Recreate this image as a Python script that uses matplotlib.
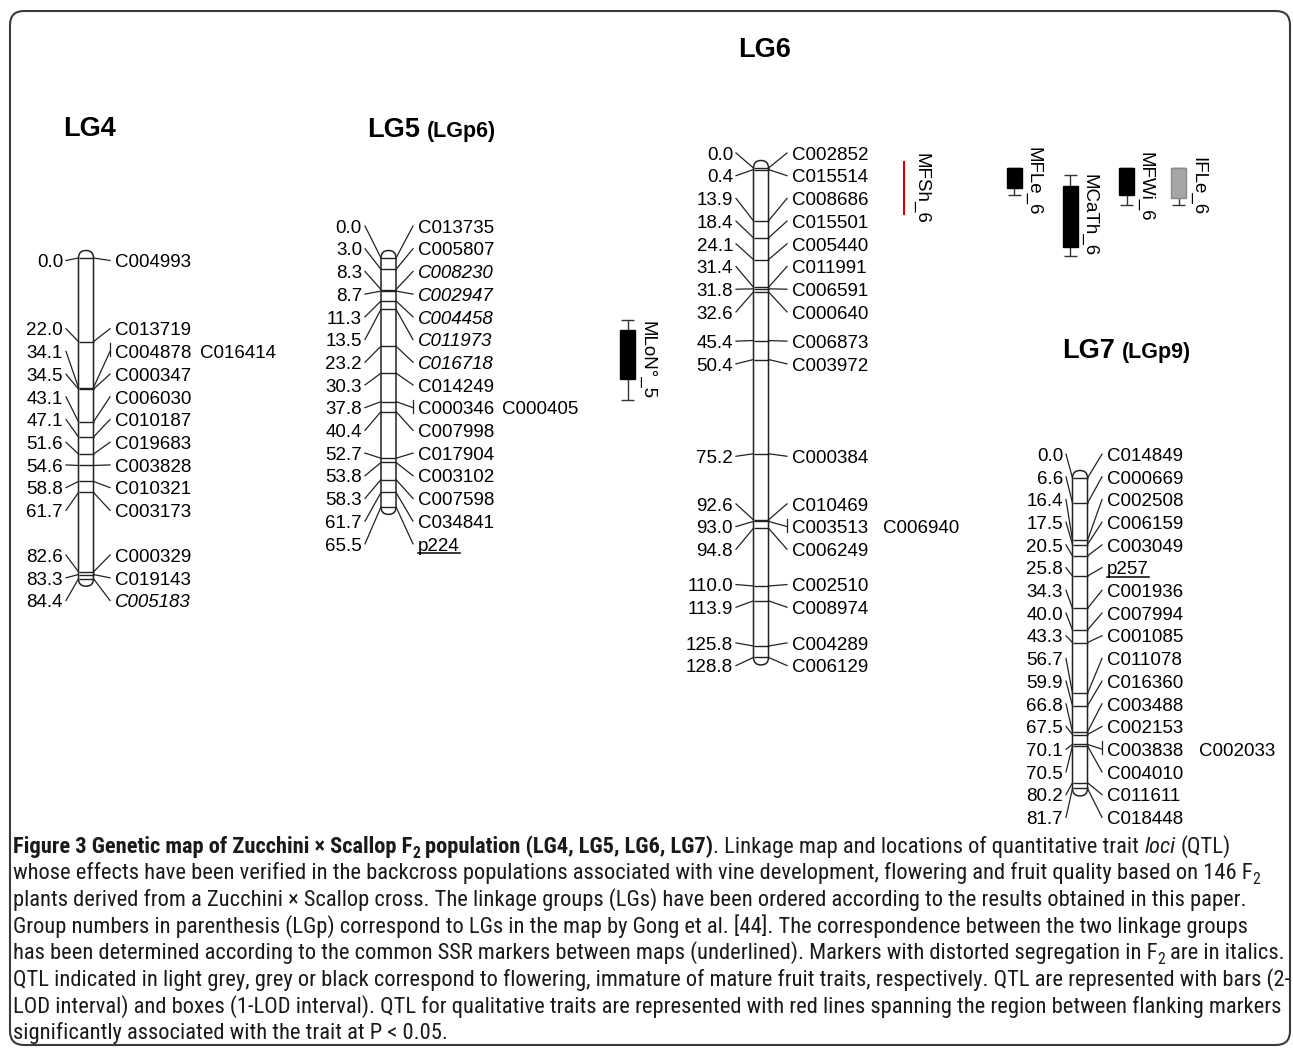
import numpy as np
import matplotlib
matplotlib.use("Agg")
import matplotlib.pyplot as plt
from matplotlib.patches import FancyBboxPatch
from matplotlib import font_manager as fm

W, H = 1293, 1052
PX = 3.8      # pixels per cM
ROW = 22.7    # label row spacing (px)

# ---------------- map data ----------------
lg4_pos = [0.0, 22.0, 34.1, 34.5, 43.1, 47.1, 51.6, 54.6, 58.8, 61.7, 82.6, 83.3, 84.4]
lg4_mrk = ["C004993", "C013719", "C004878 C016414", "C000347", "C006030", "C010187", "C019683",
           "C003828", "C010321", "C003173", "C000329", "C019143", "C005183"]

lg5_pos = [0.0, 3.0, 8.3, 8.7, 11.3, 13.5, 23.2, 30.3, 37.8, 40.4, 52.7, 53.8, 58.3, 61.7, 65.5]
lg5_mrk = ["C013735", "C005807", "C008230", "C002947", "C004458", "C011973", "C016718", "C014249",
           "C000346 C000405", "C007998", "C017904", "C003102", "C007598", "C034841", "p224"]

lg6_pos = [0.0, 0.4, 13.9, 18.4, 24.1, 31.4, 31.8, 32.6, 45.4, 50.4, 75.2, 92.6, 93.0, 94.8,
           110.0, 113.9, 125.8, 128.8]
lg6_mrk = ["C002852", "C015514", "C008686", "C015501", "C005440", "C011991", "C006591", "C000640",
           "C006873", "C003972", "C000384", "C010469", "C003513 C006940", "C006249", "C002510",
           "C008974", "C004289", "C006129"]

lg7_pos = [0.0, 6.6, 16.4, 17.5, 20.5, 25.8, 34.3, 40.0, 43.3, 56.7, 59.9, 66.8, 67.5, 70.1,
           70.5, 80.2, 81.7]
lg7_mrk = ["C014849", "C000669", "C002508", "C006159", "C003049", "p257", "C001936", "C007994",
           "C001085", "C011078", "C016360", "C003488", "C002153", "C003838 C002033", "C004010",
           "C011611", "C018448"]

italic_mrk = ["C005183", "C008230", "C002947", "C004458", "C011973", "C016718"]
underlined_mrk = ["p224", "p257"]

# QTL (cM): 2-LOD low, 1-LOD low, 1-LOD high, 2-LOD high
qtl_name = ["MLoN°_5", "MFLe_6", "MCaTh_6", "MFWi_6", "IFLe_6"]
qtl_lg = ["LG5", "LG6", "LG6", "LG6", "LG6"]
qtl_lod2_lo = [16.3, 0.0, 1.8, 0.0, 0.0]
qtl_lod1_lo = [18.9, 0.0, 4.7, 0.0, 0.0]
qtl_lod1_hi = [31.8, 5.3, 20.8, 7.1, 7.9]
qtl_lod2_hi = [37.4, 7.1, 23.2, 9.7, 9.7]
qtl_kind = ["mature", "mature", "mature", "mature", "immature"]

# qualitative trait, red line between flanking markers
qual_name = ["MFSh_6"]
qual_lg = ["LG6"]
qual_lo = [-1.8]
qual_hi = [12.4]

caption = [
    [("Figure 3 Genetic map of Zucchini × Scallop F", "b"), ("2", "bsub"),
     (" population (LG4, LG5, LG6, LG7)", "b"),
     (". Linkage map and locations of quantitative trait ", "n"), ("loci", "i"), (" (QTL)", "n")],
    [("whose effects have been verified in the backcross populations associated with vine "
      "development, flowering and fruit quality based on 146 F", "n"), ("2", "sub")],
    [("plants derived from a Zucchini × Scallop cross. The linkage groups (LGs) have been "
      "ordered according to the results obtained in this paper.", "n")],
    [("Group numbers in parenthesis (LGp) correspond to LGs in the map by Gong et al. [44]. "
      "The correspondence between the two linkage groups", "n")],
    [("has been determined according to the common SSR markers between maps (underlined). "
      "Markers with distorted segregation in F", "n"), ("2", "sub"), (" are in italics.", "n")],
    [("QTL indicated in light grey, grey or black correspond to flowering, immature of mature "
      "fruit traits, respectively. QTL are represented with bars (2-", "n")],
    [("LOD interval) and boxes (1-LOD interval). QTL for qualitative traits are represented "
      "with red lines spanning the region between flanking markers", "n")],
    [("significantly associated with the trait at P < 0.05.", "n")],
]
# right end of each caption line in the reference (px), None for the short last line
caption_right = [1290, 1283, 1262, 1262, 1283, 1290, 1290, None]

# ---------------- layout ----------------
FONT = "Liberation Sans"
FS = 13.5
EM = FS * 100 / 72
CAPH = 0.358 * EM          # half cap height, px
BAR_HW = 7.5
LAB_SHIFT = 2.5
LINE_C = "#222222"

LAYOUT = {
    "LG4": dict(cx=86, y0=258, num_x=63, name_x=115, gap2=9),
    "LG5": dict(cx=388.5, y0=258, num_x=362, name_x=418, gap2=8),
    "LG6": dict(cx=761, y0=168, num_x=733, name_x=792, gap2=15),
    "LG7": dict(cx=1080, y0=478, num_x=1063, name_x=1107, gap2=16),
}
QTL_X = {"MLoN°_5": 627.5, "MFLe_6": 1014, "MCaTh_6": 1070, "MFWi_6": 1126.5,
         "IFLe_6": 1178.5, "MFSh_6": 904}
KIND_C = {"mature": "black", "immature": "#a6a6a6", "flowering": "#d9d9d9"}
KIND_E = {"mature": "black", "immature": "#8a8a8a", "flowering": "#9a9a9a"}


def pick_caption_font():
    # prefer a narrow sans for the caption, like the journal's condensed face
    found = {}
    for f in fm.fontManager.ttflist:
        tag = (f.name + " " + f.fname).lower()
        if "narrow" in tag or "condensed" in tag or f.stretch not in ("normal", 400, "400"):
            found.setdefault(f.name, f.stretch)
    for want in ["Liberation Sans Narrow", "Roboto Condensed", "Open Sans Condensed",
                 "DejaVu Sans"]:
        if want in found:
            return want, found[want]
    for name, st in found.items():
        if "mono" not in name.lower() and "serif" not in name.lower():
            return name, st
    return "Liberation Sans", "normal"


CAP_FONT, CAP_STRETCH = pick_caption_font()


def spread(pos, gap):
    pos = list(pos)
    cl = [[i, i] for i in range(len(pos))]

    def start(c):
        mid = (pos[c[0]] + pos[c[1]]) / 2
        return mid - (c[1] - c[0]) * gap / 2

    merged = True
    while merged:
        merged = False
        for k in range(len(cl) - 1):
            a, b = cl[k], cl[k + 1]
            if start(b) < start(a) + (a[1] - a[0] + 1) * gap - 1e-9:
                cl[k] = [a[0], b[1]]
                del cl[k + 1]
                merged = True
                break
    out = []
    for c in cl:
        s = start(c)
        out.extend(s + j * gap for j in range(c[1] - c[0] + 1))
    return np.array(out)


fig = plt.figure(figsize=(W / 100, H / 100), dpi=100)
renderer = fig.canvas.get_renderer()

bg = fig.add_axes([0, 0, 1, 1])
bg.set_xlim(0, W)
bg.set_ylim(H, 0)
bg.axis("off")

bg.add_patch(FancyBboxPatch((10, 11), 1280, 1034, boxstyle="round,pad=0,rounding_size=14",
                            fill=False, ec="#3a3a3a", lw=1.5))

lg_axes = {}


def make_axes(key):
    y0 = LAYOUT[key]["y0"]
    a = fig.add_axes([0, 0, 1, 1])
    a.set_xlim(0, W)
    a.set_ylim((H - y0) / PX, -y0 / PX)
    a.axis("off")
    a.patch.set_visible(False)
    lg_axes[key] = a
    return a


def width_of(t):
    return t.get_window_extent(renderer).width


def draw_lg(key, pos, names):
    L = LAYOUT[key]
    a = make_axes(key)
    pos = np.asarray(pos)
    cx, hw = L["cx"], BAR_HW
    a.add_patch(FancyBboxPatch((cx - hw, pos[0] - hw / PX), 2 * hw, pos[-1] - pos[0] + 2 * hw / PX,
                               boxstyle=f"round,pad=0,rounding_size={hw}", mutation_aspect=1 / PX,
                               fc="white", ec=LINE_C, lw=1.1))
    a.hlines(pos, cx - hw, cx + hw, color=LINE_C, lw=1)
    lab = spread(pos, ROW / PX) + LAB_SHIFT / PX
    for p, l, nm in zip(pos, lab, names):
        base = l + CAPH / PX
        a.plot([L["num_x"] + 3, cx - hw], [l, p], color=LINE_C, lw=0.9)
        a.text(L["num_x"], base, f"{p:.1f}", ha="right", va="baseline", fontsize=FS, family=FONT)
        parts = nm.split()
        tip = L["name_x"] - 5
        a.plot([cx + hw, tip], [p, l], color=LINE_C, lw=0.9)
        if len(parts) > 1:
            a.plot([tip, tip], [l - 8 / PX, l + 5 / PX], color=LINE_C, lw=0.9)
        st = "italic" if parts[0] in italic_mrk else "normal"
        t = a.text(L["name_x"], base, parts[0], ha="left", va="baseline", fontsize=FS,
                   family=FONT, style=st)
        w = width_of(t)
        if parts[0] in underlined_mrk:
            a.plot([L["name_x"], L["name_x"] + w], [base + 2.5 / PX] * 2, color="black", lw=1.1)
        if len(parts) > 1:
            a.text(L["name_x"] + w + L["gap2"], base, parts[1], ha="left", va="baseline",
                   fontsize=FS, family=FONT)


draw_lg("LG4", lg4_pos, lg4_mrk)
draw_lg("LG5", lg5_pos, lg5_mrk)
draw_lg("LG6", lg6_pos, lg6_mrk)
draw_lg("LG7", lg7_pos, lg7_mrk)

# QTL boxes with 2-LOD whiskers
for nm, g, w0, b0, b1, w1, kind in zip(qtl_name, qtl_lg, qtl_lod2_lo, qtl_lod1_lo,
                                        qtl_lod1_hi, qtl_lod2_hi, qtl_kind):
    a = lg_axes[g]
    x = QTL_X[nm]
    a.bar(x, b1 - b0, bottom=b0, width=15, color=KIND_C[kind], edgecolor=KIND_E[kind], lw=1, zorder=3)
    wc = "#333333"
    a.vlines(x, w0, b0, color=wc, lw=1)
    a.vlines(x, b1, w1, color=wc, lw=1)
    a.hlines([w0, w1], x - 6.5, x + 6.5, color=wc, lw=1)
    a.text(x + 7.5 + 3, (w0 + w1) / 2, nm, rotation=270, ha="left", va="center",
           fontsize=FS, family=FONT)

for nm, g, lo, hi in zip(qual_name, qual_lg, qual_lo, qual_hi):
    a = lg_axes[g]
    x = QTL_X[nm]
    a.vlines(x, lo, hi, color="#e00000", lw=1.5)
    a.text(x + 8, (lo + hi) / 2, nm, rotation=270, ha="left", va="center",
           fontsize=FS, family=FONT)

# titles
TFS, SFS = 19.5, 15.5
tem = TFS * 100 / 72
bg.text(63, 126 + 0.358 * tem, "LG4", fontsize=TFS, weight="bold", family=FONT, va="baseline")
bg.text(367, 127 + 0.358 * tem, "LG5", fontsize=TFS, weight="bold", family=FONT, va="baseline")
bg.text(427, 127 + 0.358 * tem, "(LGp6)", fontsize=SFS, weight="bold", family=FONT, va="baseline")
bg.text(738, 47 + 0.358 * tem, "LG6", fontsize=TFS, weight="bold", family=FONT, va="baseline")
bg.text(1062, 348 + 0.358 * tem, "LG7", fontsize=TFS, weight="bold", family=FONT, va="baseline")
bg.text(1122, 348 + 0.358 * tem, "(LGp9)", fontsize=SFS, weight="bold", family=FONT, va="baseline")


# caption
def run_props(st, fs):
    p = dict(family=CAP_FONT, stretch=CAP_STRETCH, fontsize=fs, color="#1a1a1a")
    if st in ("b", "bsub"):
        p["weight"] = "bold"
    if st == "i":
        p["style"] = "italic"
    if st in ("sub", "bsub"):
        p["fontsize"] = fs * 0.7
    return p


def draw_caption_line(runs, x0, yb, fs, keep=True):
    x = x0
    em = fs * 100 / 72
    made = []
    for s, st in runs:
        pr = run_props(st, fs)
        t1 = bg.text(0, 0, "a a", **pr)
        t2 = bg.text(0, 0, "aa", **pr)
        sp = width_of(t1) - width_of(t2)
        t1.remove()
        t2.remove()
        lead = len(s) - len(s.lstrip(" "))
        trail = len(s) - len(s.rstrip(" "))
        x += lead * sp
        y = yb + (0.22 * em if st in ("sub", "bsub") else 0)
        t = bg.text(x, y, s.strip(), va="baseline", ha="left", **pr)
        x += width_of(t) + trail * sp
        made.append(t)
    if not keep:
        for t in made:
            t.remove()
    return x - x0


CX0 = 13
cfs = 16.0
scale = min((r - CX0) / draw_caption_line(runs, CX0, 0, cfs, keep=False)
            for runs, r in zip(caption, caption_right) if r is not None)
cfs = cfs * scale
cem = cfs * 100 / 72
for i, runs in enumerate(caption):
    yc = 845 + 26.6 * i
    draw_caption_line(runs, CX0, yc + 0.35 * cem, cfs)

fig.savefig("out.png", dpi=100)
